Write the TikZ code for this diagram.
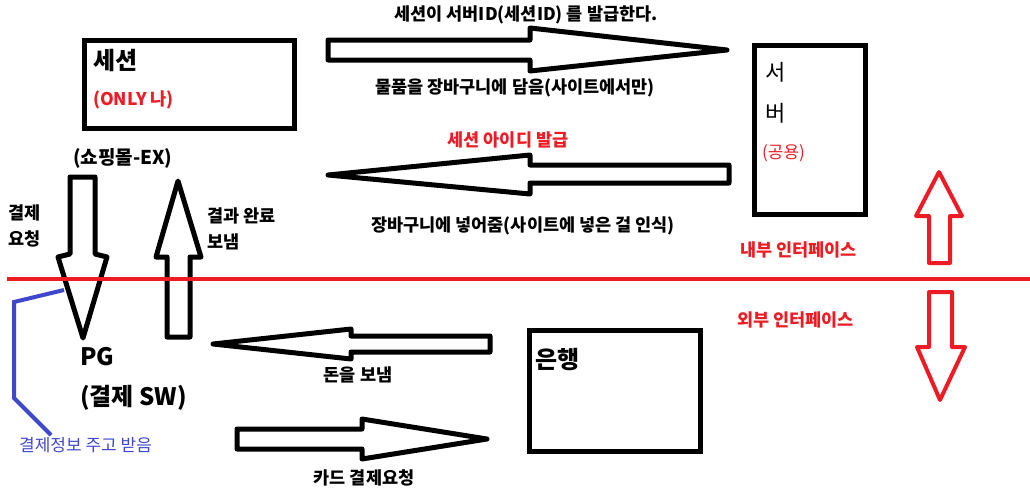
\documentclass[tikz,border=0pt]{standalone}
\usepackage{fontspec}
\setmainfont{Noto Sans CJK KR}
\usetikzlibrary{positioning}
\definecolor{pred}{HTML}{ED1C24}
\definecolor{pblue}{HTML}{3F48CC}

\begin{document}
\begin{tikzpicture}[x=1pt,y=-1pt,
  blk/.style={line width=5pt,line join=round},
  redblk/.style={draw=pred,line width=4pt,line join=round},
  box/.style={draw,line width=5pt,inner sep=0},
  lbl/.style={font=\fontsize{17.5}{26}\selectfont\bfseries,inner sep=0,align=left},
  redlbl/.style={lbl,text=pred},
  big/.style={font=\fontsize{24}{24}\selectfont\bfseries,inner sep=0}]

\useasboundingbox (0,0) rectangle (1030,498);

% boxes
\node[box,minimum width=210,minimum height=88] (session) at (189.5,84.5) {};
\node[box,minimum width=111,minimum height=169] (server) at (810,130) {};
\node[box,minimum width=171,minimum height=121] (bank) at (615,391) {};

\node[big,anchor=west] (sessiontxt) at (93,60) {세션};
\node[redlbl,anchor=west] (only) at (93,100) {(ONLY 나)};
\node[lbl,font=\fontsize{19}{19}\selectfont\bfseries,anchor=west] (mall) at (73,158) {(쇼핑몰-EX)};
\node[font=\fontsize{22}{22}\selectfont,inner sep=0,anchor=west] (srv1) at (765,72) {서};
\node[font=\fontsize{22}{22}\selectfont,inner sep=0,anchor=west] (srv2) at (765,113) {버};
\node[font=\fontsize{17}{17}\selectfont,text=pred,inner sep=0,anchor=west] (shared) at (762,153) {(공용)};
\node[big,anchor=west] (banktxt) at (535,360) {은행};
\node[big,anchor=west] (pg) at (80,357) {PG};
\node[big,anchor=west] (pgsw) at (80,398) {(결제 SW)};

% top arrows
\draw[blk] (328,40) -- (530,40) -- (530,28) -- (727,50) -- (530,71) -- (530,60) -- (328,60) -- cycle;
\draw[blk] (729,165) -- (530,165) -- (530,155) -- (328,175) -- (530,194) -- (530,183) -- (729,183) -- cycle;
\node[lbl] (issue) at (526,15) {세션이 서버ID(세션ID) 를 발급한다.};
\node[lbl] (cart) at (515,88) {물품을 장바구니에 담음(사이트에서만)};
\node[redlbl] (sid) at (508,140) {세션 아이디 발급};
\node[lbl] (cartput) at (523,226) {장바구니에 넣어줌(사이트에 넣은 걸 인식)};

% PG arrows
\draw[blk] (70,177) -- (95,177) -- (95,254) -- (107,257) -- (83,338) -- (58,257) -- (70,254) -- cycle;
\draw[blk] (178,181) -- (201,257) -- (190,257) -- (190,337) -- (167,337) -- (167,257) -- (156,257) -- cycle;
\node[lbl,anchor=west] (req) at (8,226) {결제\\요청};
\node[lbl,anchor=west] (done) at (207,229) {결과 완료\\보냄};

% bank arrows
\draw[blk] (490,336) -- (351,336) -- (351,329) -- (213,344) -- (351,359) -- (351,352) -- (490,352) -- cycle;
\draw[blk] (237,429) -- (362,429) -- (362,419) -- (487,439) -- (362,459) -- (362,449) -- (237,449) -- cycle;
\node[lbl] (money) at (358,375) {돈을 보냄};
\node[lbl] (card) at (364,478) {카드 결제요청};

% interface
\draw[pred,line width=4pt] (7,279) -- (1030,279);
\draw[redblk] (939,172) -- (962,216) -- (950,216) -- (950,263) -- (929,263) -- (929,216) -- (916,216) -- cycle;
\draw[redblk] (929,292) -- (952,292) -- (952,347) -- (965,347) -- (940,400) -- (917,347) -- (929,347) -- cycle;
\node[redlbl,anchor=west] (inner) at (740,250) {내부 인터페이스};
\node[redlbl,anchor=west] (outer) at (737,320) {외부 인터페이스};

% payment info
\coordinate (pa) at (64,290);
\coordinate (pb) at (51,435);
\draw[pblue,line width=4pt] (pa) -- (14,302) -- (14,398) -- (pb);
\node[font=\fontsize{17}{17}\selectfont,text=pblue,inner sep=0,anchor=west] (info) at (19,445) {결제정보 주고 받음};

\end{tikzpicture}
\end{document}
